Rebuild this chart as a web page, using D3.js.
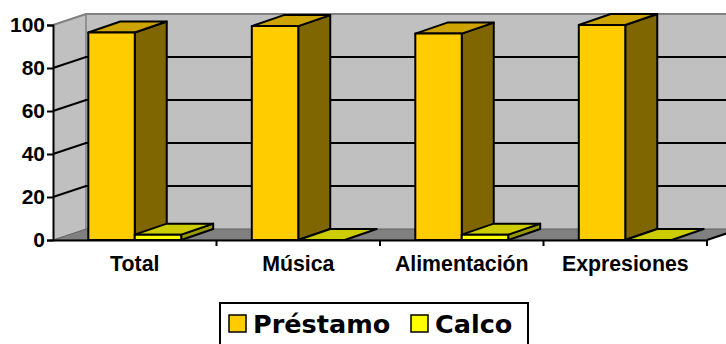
<!DOCTYPE html>
<html lang="es">
<head>
<meta charset="UTF-8">
<title>Préstamo y Calco</title>
<script src="https://cdn.jsdelivr.net/npm/d3@7"></script>
<style>
  body { margin: 0; background: #fff; }
  svg { display: block; }
</style>
</head>
<body>
<div id="chart"></div>
<script>
// data
const categories = ["Total", "Música", "Alimentación", "Expresiones"];
const seriesNames = ["Préstamo", "Calco"];
const prestamo = [96.5, 99.5, 96, 100];
const calco = [2.5, 0, 2.5, 0];
const yTicks = [0, 20, 40, 60, 80, 100];

const W = 726, H = 344;
const plot = {left: 53, right: 707, top: 25, bottom: 240};
const depth = {dx: 33, dy: -11};     // wall depth
const barDepth = {dx: 32, dy: -11};  // column depth

const faces = [
  {front: "#FFCC00", top: "#CCA300", side: "#7F6600"},
  {front: "#FFFF00", top: "#CCCC00", side: "#999900"}
];

const svg = d3.select("#chart").append("svg")
  .attr("width", W).attr("height", H);

const y = d3.scaleLinear().domain([0, 100]).range([plot.bottom, plot.top]);
const x = d3.scaleBand().domain(categories).range([plot.left, plot.right]).padding(0);
const xs = d3.scaleBand().domain(seriesNames).range([0, x.bandwidth()])
  .paddingInner(0).paddingOuter(0.76);

const pts = p => p.map(d => d.join(",")).join(" ");

// walls
const bx = depth.dx, by = depth.dy;
svg.append("polygon") // side wall
  .attr("points", pts([[plot.left, y(100)], [plot.left + bx, y(100) + by], [plot.left + bx, y(0) + by], [plot.left, y(0)]]))
  .attr("fill", "#C0C0C0");
svg.append("polygon") // back wall
  .attr("points", pts([[plot.left + bx, y(100) + by], [W + 20, y(100) + by], [W + 20, y(0) + by], [plot.left + bx, y(0) + by]]))
  .attr("fill", "#C0C0C0");
svg.append("polyline")
  .attr("points", pts([[plot.left, y(100)], [plot.left + bx, y(100) + by], [W + 20, y(100) + by]]))
  .attr("fill", "none").attr("stroke", "#808080").attr("stroke-width", 2);
svg.append("line")
  .attr("x1", plot.left + bx).attr("x2", plot.left + bx)
  .attr("y1", y(100) + by).attr("y2", y(0) + by)
  .attr("stroke", "#808080").attr("stroke-width", 1.5);

// gridlines
const grid = svg.append("g");
yTicks.filter(v => v > 0 && v < 100).forEach(v => {
  grid.append("polyline")
    .attr("points", pts([[plot.left, y(v)], [plot.left + bx, y(v) + by], [W + 20, y(v) + by]]))
    .attr("fill", "none").attr("stroke", "#000").attr("stroke-width", 2);
});

// floor
svg.append("polygon")
  .attr("points", pts([[plot.left, y(0)], [plot.right, y(0)], [plot.right + bx, y(0) + by], [plot.left + bx, y(0) + by]]))
  .attr("fill", "#808080").attr("stroke", "#606060").attr("stroke-width", 1);
svg.append("line")
  .attr("x1", plot.right).attr("y1", y(0)).attr("x2", plot.right + bx).attr("y2", y(0) + by)
  .attr("stroke", "#000").attr("stroke-width", 2);

// columns
const bars = svg.append("g");
categories.forEach((c, i) => {
  [prestamo[i], calco[i]].forEach((v, s) => {
    const x0 = x(c) + xs(seriesNames[s]), x1 = x0 + xs.bandwidth();
    const yt = y(v), yb = y(0);
    const dx = barDepth.dx, dy = barDepth.dy;
    const f = faces[s];
    const g = bars.append("g")
      .attr("stroke", "#000").attr("stroke-width", 2).attr("stroke-linejoin", "round");
    if (v > 0) {
      g.append("polygon").attr("fill", f.side)
        .attr("points", pts([[x1, yt], [x1 + dx, yt + dy], [x1 + dx, yb + dy], [x1, yb]]));
    }
    g.append("polygon").attr("fill", f.top)
      .attr("points", pts([[x0, yt], [x0 + dx, yt + dy], [x1 + dx, yt + dy], [x1, yt]]));
    if (v > 0) {
      g.append("rect").attr("fill", f.front)
        .attr("x", x0).attr("y", yt).attr("width", x1 - x0).attr("height", yb - yt);
    }
  });
});

// axes
const yAxis = svg.append("g")
  .attr("transform", `translate(${plot.left},0)`)
  .call(d3.axisLeft(y).tickValues(yTicks).tickSize(6).tickPadding(2));
yAxis.select(".domain").attr("stroke", "#000").attr("stroke-width", 2);
yAxis.selectAll(".tick line").attr("stroke", "#000").attr("stroke-width", 2);
yAxis.selectAll(".tick text")
  .attr("font-family", "'Liberation Sans', Arial, sans-serif")
  .attr("font-weight", "bold").attr("font-size", "21px").attr("fill", "#000");

const xAxis = svg.append("g")
  .attr("transform", `translate(0,${plot.bottom})`)
  .call(d3.axisBottom(x).tickSize(0).tickPadding(16));
xAxis.select(".domain").attr("stroke", "#000").attr("stroke-width", 2);
xAxis.selectAll(".tick text")
  .attr("font-family", "'Liberation Sans', Arial, sans-serif")
  .attr("font-weight", "bold").attr("font-size", "21.3px").attr("fill", "#000");
// category separators
categories.concat([null]).forEach((c, i) => {
  const xx = c ? x(c) : plot.right;
  if (i === 0) return;
  svg.append("line").attr("x1", xx).attr("x2", xx)
    .attr("y1", plot.bottom).attr("y2", plot.bottom + 6)
    .attr("stroke", "#000").attr("stroke-width", 2);
});

// legend
const legend = svg.append("g");
legend.append("rect")
  .attr("x", 220).attr("y", 303).attr("width", 308).attr("height", 60)
  .attr("fill", "#fff").attr("stroke", "#000").attr("stroke-width", 2);
const legX = [229, 411];
seriesNames.forEach((n, s) => {
  legend.append("rect")
    .attr("x", legX[s]).attr("y", 315).attr("width", 17).attr("height", 17)
    .attr("fill", faces[s].front).attr("stroke", "#000").attr("stroke-width", 1.5);
  legend.append("text")
    .attr("x", legX[s] + 24).attr("y", 333)
    .attr("font-family", "'DejaVu Sans', Verdana, sans-serif")
    .attr("font-weight", "bold").attr("font-size", "25.5px").attr("fill", "#000")
    .text(n);
});
</script>
</body>
</html>
